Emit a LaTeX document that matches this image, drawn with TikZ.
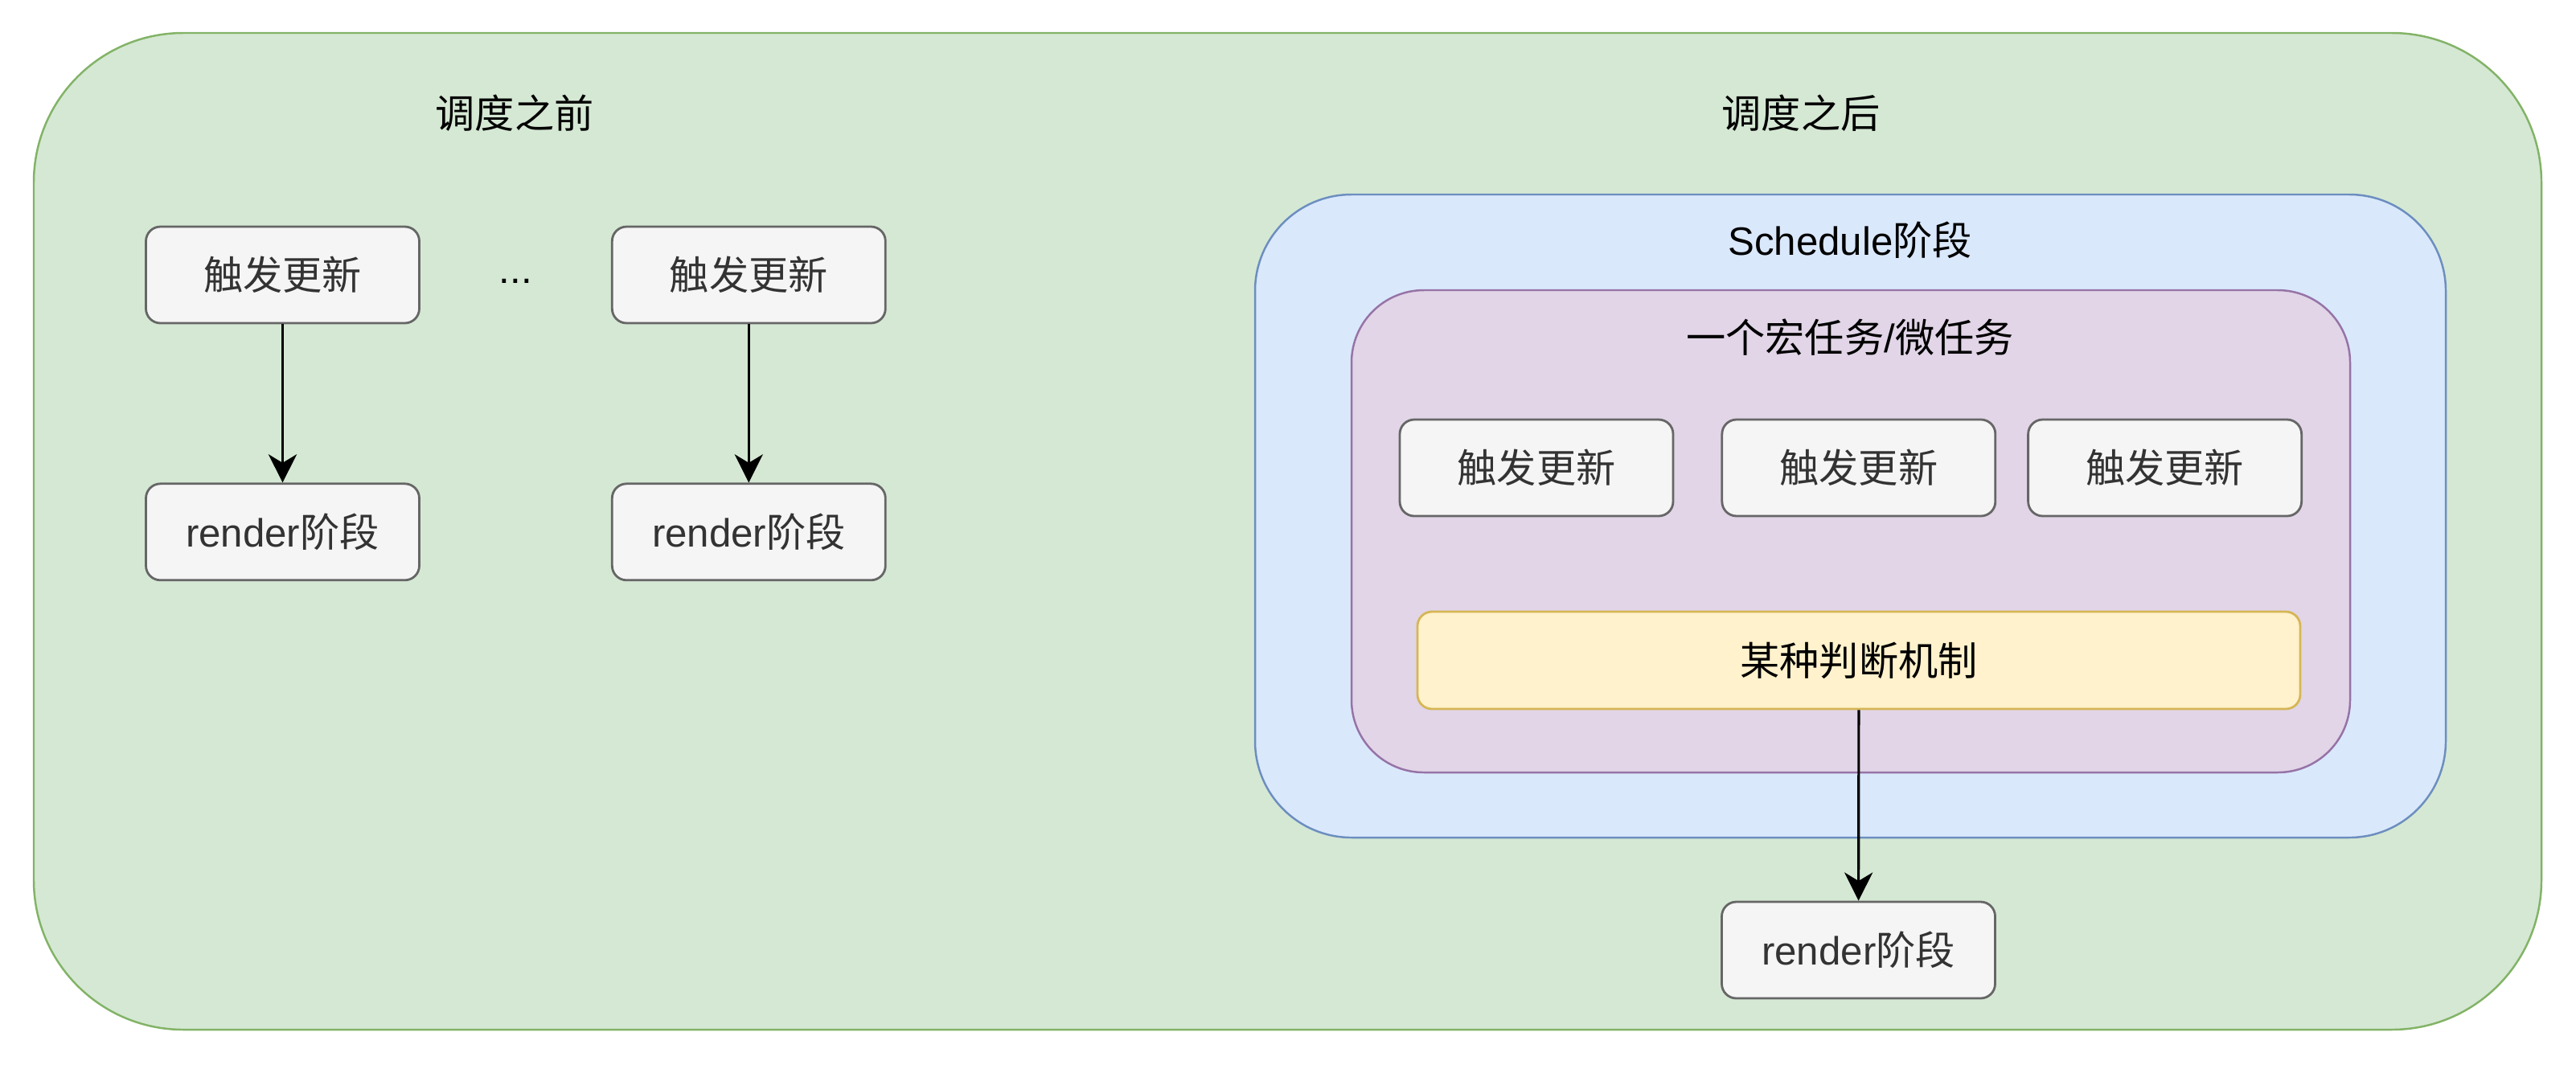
\documentclass[tikz,border=0pt]{standalone}
\usepackage{fontspec}
\setmainfont{Liberation Sans}
\newfontfamily\cjk{Noto Sans CJK SC}
\usepackage{xcolor}
\usepackage{tikz}
\usetikzlibrary{arrows.meta, positioning, calc}
\definecolor{outerfill}{HTML}{D5E8D4}
\definecolor{outerdraw}{HTML}{82B366}
\definecolor{schedfill}{HTML}{DAE8FC}
\definecolor{scheddraw}{HTML}{6C8EBF}
\definecolor{taskfill}{HTML}{E1D5E7}
\definecolor{taskdraw}{HTML}{9673A6}
\definecolor{judgefill}{HTML}{FFF2CC}
\definecolor{judgedraw}{HTML}{D6B656}
\definecolor{boxfill}{HTML}{F5F5F5}
\definecolor{boxdraw}{HTML}{666666}
\definecolor{boxtext}{HTML}{333333}
\tikzstyle{container} = [rectangle, line width=0.7pt, inner sep=0pt]
\tikzstyle{stepbox}   = [rectangle, rounded corners=0.18cm, draw=boxdraw,
                         fill=boxfill, text=boxtext, line width=0.8pt,
                         minimum width=3.4cm, minimum height=1.2cm]
\tikzstyle{judge}     = [rectangle, rounded corners=0.18cm, draw=judgedraw,
                         fill=judgefill, line width=0.8pt,
                         minimum width=10.98cm, minimum height=1.21cm]
\tikzstyle{title}     = [inner sep=0pt]
\tikzstyle{arrow}     = [-{Stealth[length=10pt, width=10pt, inset=3pt]},
                         line width=0.9pt, draw=black]

\begin{document}
\begin{tikzpicture}[font=\fontsize{14pt}{17pt}\selectfont,
    every node/.style={align=center}]
  \useasboundingbox (0,0) rectangle (32.04,-13.24);

  % containers
  \node[container, draw=outerdraw, fill=outerfill, rounded corners=1.86cm,
        minimum width=31.19cm, minimum height=12.4cm] (outer) at (16.015,-6.61) {};
  \node[container, draw=scheddraw, fill=schedfill, rounded corners=1.2cm,
        minimum width=14.81cm, minimum height=8cm] (sched) at (23.015,-6.42) {};
  \node[container, draw=taskdraw, fill=taskfill, rounded corners=0.9cm,
        minimum width=12.42cm, minimum height=6cm] (task) at (23.02,-6.61) {};

  % titles
  \node[title] (before) at (6.4,-1.41) {\cjk 调度之前};
  \node[title] (after) at (22.4,-1.41) {\cjk 调度之后};
  \node[title] (schedlabel) at (23.01,-2.99) {Schedule{\cjk 阶段}};
  \node[title] (tasklabel) at (23.01,-4.2) {{\cjk 一个宏任务}/{\cjk 微任务}};

  % before scheduling
  \node[stepbox] (trig1) at (3.515,-3.42) {\cjk 触发更新};
  \node[stepbox, below=1.97cm of trig1] (render1) {render{\cjk 阶段}};
  \node[stepbox, right=2.37cm of trig1] (trig2) {\cjk 触发更新};
  \node[stepbox, below=1.97cm of trig2] (render2) {render{\cjk 阶段}};
  \node[title] (dots) at ($(trig1)!0.5!(trig2)+(0,-0.08)$) {...};

  % after scheduling
  \node[stepbox] (trigA) at (19.11,-5.82) {\cjk 触发更新};
  \node[stepbox, right=0.58cm of trigA] (trigB) {\cjk 触发更新};
  \node[stepbox, right=0.38cm of trigB] (trigC) {\cjk 触发更新};
  \node[judge] (judge) at (23.12,-8.215) {\cjk 某种判断机制};
  \node[stepbox] (render3) at (23.115,-11.82) {render{\cjk 阶段}};

  \draw[arrow] (trig1) -- (render1);
  \draw[arrow] (trig2) -- (render2);
  \draw[arrow] (judge) -- (render3);

\end{tikzpicture}
\end{document}
